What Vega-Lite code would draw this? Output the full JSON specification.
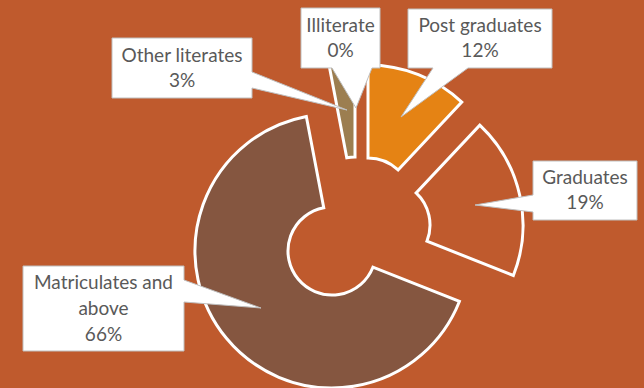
{
  "$schema": "https://vega.github.io/schema/vega-lite/v6.json",
  "width": 568,
  "height": 336,
  "autosize": {"type": "none"},
  "padding": {"left": 76, "top": 52, "right": 0, "bottom": 0},
  "background": "#BF5A2D",
  "config": {"view": {"stroke": null}},
  "data": {
    "values": [
      {"category": "Post graduates", "pct": 12, "order": 1, "label": "Post graduates\n12%"},
      {"category": "Graduates", "pct": 19, "order": 2, "label": "Graduates\n19%"},
      {"category": "Matriculates and above", "pct": 66, "order": 3, "label": "Matriculates and\nabove\n66%"},
      {"category": "Other literates", "pct": 3, "order": 4, "label": "Other literates\n3%"},
      {"category": "Illiterate", "pct": 0, "order": 5, "label": "Illiterate\n0%"}
    ]
  },
  "transform": [
    {"stack": "pct", "groupby": [], "sort": [{"field": "order", "order": "ascending"}], "as": ["t0", "t1"]}
  ],
  "layer": [
    {
      "transform": [{"filter": "datum.category === 'Post graduates'"}],
      "mark": {"type": "arc", "innerRadius": 44, "outerRadius": 137, "stroke": "white", "strokeWidth": 3, "xOffset": 8, "yOffset": -18},
      "encoding": {
        "theta": {"field": "t0", "type": "quantitative", "scale": {"domain": [0, 100]}},
        "theta2": {"field": "t1"},
        "color": {"field": "category", "type": "nominal", "legend": null,
          "scale": {"domain": ["Post graduates", "Graduates", "Matriculates and above", "Other literates", "Illiterate"],
                    "range": ["#E58314", "#BF5A2D", "#855640", "#9C7E50", "#C8A060"]}}
      }
    },
    {
      "transform": [{"filter": "datum.category === 'Graduates'"}],
      "mark": {"type": "arc", "innerRadius": 44, "outerRadius": 137, "stroke": "white", "strokeWidth": 3, "xOffset": 26, "yOffset": 5},
      "encoding": {
        "theta": {"field": "t0", "type": "quantitative", "scale": {"domain": [0, 100]}},
        "theta2": {"field": "t1"},
        "color": {"field": "category", "type": "nominal", "legend": null}
      }
    },
    {
      "transform": [{"filter": "datum.category === 'Matriculates and above'"}],
      "mark": {"type": "arc", "innerRadius": 44, "outerRadius": 137, "stroke": "white", "strokeWidth": 3, "xOffset": -28, "yOffset": 31},
      "encoding": {
        "theta": {"field": "t0", "type": "quantitative", "scale": {"domain": [0, 100]}},
        "theta2": {"field": "t1"},
        "color": {"field": "category", "type": "nominal", "legend": null}
      }
    },
    {
      "transform": [{"filter": "datum.category === 'Other literates'"}],
      "mark": {"type": "arc", "innerRadius": 44, "outerRadius": 137, "stroke": "white", "strokeWidth": 3, "xOffset": -5, "yOffset": -19},
      "encoding": {
        "theta": {"field": "t0", "type": "quantitative", "scale": {"domain": [0, 100]}},
        "theta2": {"field": "t1"},
        "color": {"field": "category", "type": "nominal", "legend": null}
      }
    },
    {
      "mark": {"type": "point", "filled": true, "fill": "white", "stroke": "#BFBFBF", "strokeWidth": 1, "opacity": 1, "fillOpacity": 1, "strokeOpacity": 1, "size": 4},
      "encoding": {
        "shape": {"field": "category", "type": "nominal", "legend": null,
          "scale": {"domain": ["Post graduates", "Graduates", "Matriculates and above", "Other literates", "Illiterate"],
                    "range": [
                      "M48,-211H192V-152H108L41,-103L73,-152H48Z",
                      "M173,-59H277V0H173V-8L115,-15L173,-25Z",
                      "M-337,46H-176V60L-99,88L-176,82V131H-337Z",
                      "M-248,-182H-108V-148L-13,-110L-108,-132V-122H-248Z",
                      "M-59,-212H20V-152H12L-4,-112L-28,-152H-59Z"
                    ]}}
      }
    },
    {
      "transform": [{"filter": "datum.category === 'Post graduates'"}],
      "mark": {"type": "text", "font": "Lato", "fontSize": 19, "fill": "#595959", "lineBreak": "\n", "lineHeight": 25, "align": "center", "baseline": "middle", "dx": 120, "dy": -194},
      "encoding": {"text": {"field": "label"}}
    },
    {
      "transform": [{"filter": "datum.category === 'Graduates'"}],
      "mark": {"type": "text", "font": "Lato", "fontSize": 19, "fill": "#595959", "lineBreak": "\n", "lineHeight": 25, "align": "center", "baseline": "middle", "dx": 225, "dy": -42},
      "encoding": {"text": {"field": "label"}}
    },
    {
      "transform": [{"filter": "datum.category === 'Matriculates and above'"}],
      "mark": {"type": "text", "font": "Lato", "fontSize": 19, "fill": "#595959", "lineBreak": "\n", "lineHeight": 26, "align": "center", "baseline": "middle", "dx": -256.5, "dy": 62.5},
      "encoding": {"text": {"field": "label"}}
    },
    {
      "transform": [{"filter": "datum.category === 'Other literates'"}],
      "mark": {"type": "text", "font": "Lato", "fontSize": 19, "fill": "#595959", "lineBreak": "\n", "lineHeight": 25, "align": "center", "baseline": "middle", "dx": -178, "dy": -164.5},
      "encoding": {"text": {"field": "label"}}
    },
    {
      "transform": [{"filter": "datum.category === 'Illiterate'"}],
      "mark": {"type": "text", "font": "Lato", "fontSize": 19, "fill": "#595959", "lineBreak": "\n", "lineHeight": 25, "align": "center", "baseline": "middle", "dx": -19.5, "dy": -194.5},
      "encoding": {"text": {"field": "label"}}
    }
  ]
}
